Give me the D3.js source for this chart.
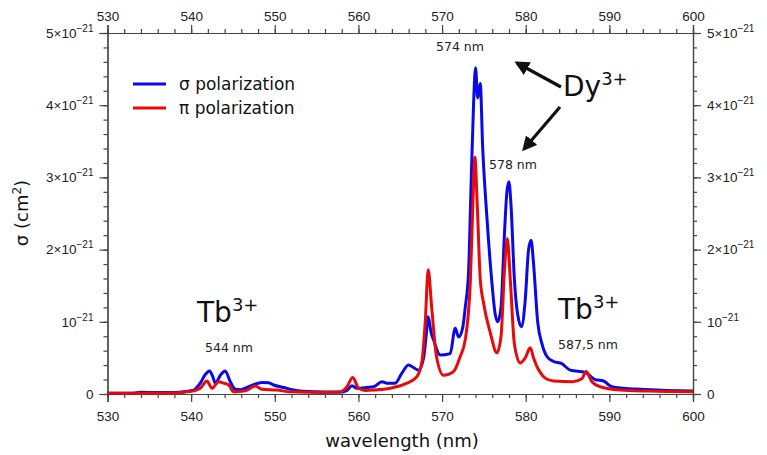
<!DOCTYPE html>
<html>
<head>
<meta charset="utf-8">
<script src="https://cdn.jsdelivr.net/npm/d3@7"></script>
<style>
  body { margin: 0; background: #fff; }
  svg { font-family: "DejaVu Sans", sans-serif; }
  .axis path, .axis line { stroke: #444; stroke-width: 1.2; }
  .axis text { fill: #222; font-size: 13.5px; }
</style>
</head>
<body>
<svg></svg>
<script>
// values in units of 1e-21 cm^2
const sigmaNm = [530, 532.95, 533.95, 535.92, 537.91, 539.4, 540.3, 541.09, 541.69, 542.19, 542.59, 542.89, 543.49, 544.08, 544.68, 545.28, 545.88, 546.47, 547.47, 548.47, 549.26, 549.86, 551.06, 552.25, 554.64, 557.83, 558.63, 559.22, 559.82, 560.22, 561.02, 561.81, 562.81, 563.41, 564.4, 565.2, 566.0, 566.4, 567.19, 567.79, 568.09, 568.34, 568.69, 568.98, 569.78, 570.97, 571.57, 571.97, 572.47, 572.77, 573.17, 573.47, 573.76, 574.0, 574.26, 574.56, 574.86, 575.36, 575.96, 576.36, 576.65, 577.05, 577.45, 577.75, 577.99, 578.25, 578.64, 579.04, 579.49, 579.94, 580.34, 580.64, 580.94, 581.43, 581.93, 582.53, 583.33, 584.32, 585.32, 587.11, 588.31, 589.3, 590.3, 591.69, 593.68, 596.67, 600]
const sigmaVal = [0.01, 0.01, 0.025, 0.02, 0.02, 0.035, 0.055, 0.15, 0.27, 0.32, 0.24, 0.15, 0.26, 0.32, 0.17, 0.065, 0.06, 0.08, 0.13, 0.16, 0.155, 0.125, 0.09, 0.055, 0.03, 0.025, 0.05, 0.115, 0.08, 0.08, 0.09, 0.1, 0.17, 0.15, 0.15, 0.29, 0.4, 0.38, 0.33, 0.5, 0.8, 1.07, 0.85, 0.75, 0.54, 0.56, 0.91, 0.79, 0.92, 1.2, 1.7, 2.9, 4.0, 4.52, 4.1, 4.3, 3.4, 2.45, 1.54, 1.1, 1.0, 1.2, 2.2, 2.8, 2.94, 2.6, 1.6, 1.1, 0.93, 1.3, 2.0, 2.13, 1.8, 1.0, 0.7, 0.52, 0.45, 0.42, 0.33, 0.3, 0.2, 0.18, 0.1, 0.08, 0.065, 0.05, 0.04]

const piNm = [530, 537.91, 539.4, 540.3, 541.09, 541.89, 542.49, 543.29, 543.88, 544.48, 545.08, 546.47, 547.67, 548.47, 550.26, 551.85, 555.84, 557.83, 558.63, 559.32, 560.02, 560.82, 561.81, 563.8, 565.8, 566.99, 567.59, 567.99, 568.34, 568.75, 569.33, 570.18, 571.37, 572.17, 572.77, 573.37, 573.66, 573.92, 574.21, 574.56, 574.96, 575.76, 576.55, 577.05, 577.45, 577.8, 578.15, 578.64, 579.34, 579.94, 580.54, 580.94, 581.43, 581.73, 582.33, 583.33, 585.61, 586.71, 587.21, 587.91, 588.9, 591.29, 594.68, 600]
const piVal = [0.01, 0.015, 0.03, 0.045, 0.08, 0.18, 0.08, 0.17, 0.15, 0.125, 0.03, 0.045, 0.11, 0.065, 0.055, 0.03, 0.02, 0.03, 0.1, 0.23, 0.08, 0.05, 0.055, 0.08, 0.15, 0.24, 0.45, 1.0, 1.72, 1.21, 0.52, 0.26, 0.31, 0.52, 0.75, 1.54, 2.55, 3.28, 2.6, 1.6, 1.26, 0.85, 0.57, 0.8, 1.7, 2.15, 1.6, 0.7, 0.43, 0.5, 0.64, 0.5, 0.36, 0.3, 0.22, 0.18, 0.17, 0.21, 0.31, 0.17, 0.1, 0.055, 0.04, 0.03]

const xTicks = [530, 540, 550, 560, 570, 580, 590, 600]
const yTicks = [0, 1, 2, 3, 4, 5]
const yTickMant = ["0", "", "2×", "3×", "4×", "5×"]

const legendNames = ["σ polarization", "π polarization"]
const colors = ["#0a0ae6", "#e60a0a"]

const w = 767
const h = 455
const padL = 107.5, padR = 693, padT = 33, padB = 394

let svg = d3.select("svg").attr("width", w).attr("height", h)

let xScale = d3.scaleLinear().domain([530, 600]).range([padL, padR])
let yScale = d3.scaleLinear().domain([0, 5]).range([padB, padT])

let fmtY = (sel) => {
  sel.selectAll(".tick text").each(function(d) {
    let t = d3.select(this).text("")
    let m = yTickMant[yTicks.indexOf(d)]
    if (d === 0) { t.text("0"); return }
    t.append("tspan").text(m + "10")
    t.append("tspan").attr("dy", -6).attr("font-size", 10).text("−21")
  })
}

// minor ticks
let xMinor = d3.range(530, 601, 2)
let yMinor = d3.range(0, 5.01, 0.2)

svg.append("g").attr("class", "axis").attr("transform", `translate(0,${padB})`)
  .call(d3.axisBottom(xScale).tickValues(xMinor).tickSize(4).tickFormat(""))
svg.append("g").attr("class", "axis").attr("transform", `translate(0,${padT})`)
  .call(d3.axisTop(xScale).tickValues(xMinor).tickSize(4).tickFormat(""))
svg.append("g").attr("class", "axis").attr("transform", `translate(${padL},0)`)
  .call(d3.axisLeft(yScale).tickValues(yMinor).tickSize(4).tickFormat(""))
svg.append("g").attr("class", "axis").attr("transform", `translate(${padR},0)`)
  .call(d3.axisRight(yScale).tickValues(yMinor).tickSize(4).tickFormat(""))

// major ticks
svg.append("g").attr("class", "axis").attr("transform", `translate(0,${padB})`)
  .call(d3.axisBottom(xScale).tickValues(xTicks).tickSize(8).tickPadding(9).tickFormat(d3.format("d")))
svg.append("g").attr("class", "axis").attr("transform", `translate(0,${padT})`)
  .call(d3.axisTop(xScale).tickValues(xTicks).tickSize(8).tickPadding(4).tickFormat(d3.format("d")))
svg.append("g").attr("class", "axis").attr("transform", `translate(${padL},0)`)
  .call(d3.axisLeft(yScale).tickValues(yTicks).tickSize(8).tickPadding(6))
  .call(fmtY)
svg.append("g").attr("class", "axis").attr("transform", `translate(${padR},0)`)
  .call(d3.axisRight(yScale).tickValues(yTicks).tickSize(8).tickPadding(6))
  .call(fmtY)

// curves
let line = d3.line()
  .x(d => xScale(d[0]))
  .y(d => yScale(d[1]))
  .curve(d3.curveMonotoneX)

let series = [d3.zip(sigmaNm, sigmaVal), d3.zip(piNm, piVal)]
series.forEach((s, i) => {
  svg.append("path")
    .datum(s)
    .attr("fill", "none")
    .attr("stroke", colors[i])
    .attr("stroke-width", 3)
    .attr("stroke-linejoin", "round")
    .attr("d", line)
})

// legend
legendNames.forEach((n, i) => {
  let y = 84 + i * 24
  svg.append("line").attr("x1", 133).attr("x2", 166).attr("y1", y).attr("y2", y)
    .attr("stroke", colors[i]).attr("stroke-width", 3)
  svg.append("text").attr("x", 179).attr("y", y + 6).attr("font-size", 17).attr("fill", "#111").text(n)
})

// axis titles
svg.append("text").attr("x", 402).attr("y", 447).attr("text-anchor", "middle")
  .attr("font-size", 18).attr("fill", "#111").text("wavelength (nm)")
let yt = svg.append("text").attr("transform", "translate(28,213) rotate(-90)")
  .attr("text-anchor", "middle").attr("font-size", 18).attr("fill", "#111")
yt.append("tspan").text("σ (cm")
yt.append("tspan").attr("dy", -7).attr("font-size", 12).text("2")
yt.append("tspan").attr("dy", 7).text(")")

// annotations
let ion = (x, y, name) => {
  let t = svg.append("text").attr("x", x).attr("y", y).attr("font-size", 28).attr("fill", "#111")
  t.append("tspan").text(name)
  t.append("tspan").attr("dy", -11).attr("font-size", 18).text("3+")
}
ion(563, 96, "Dy")
ion(197, 322, "Tb")
ion(558, 319, "Tb")

let note = (x, y, s) => svg.append("text").attr("x", x).attr("y", y).attr("text-anchor", "middle")
  .attr("font-size", 12.5).attr("fill", "#222").text(s)
note(460, 51, "574 nm")
note(513, 169, "578 nm")
note(229, 352, "544 nm")
note(588, 349, "587,5 nm")

svg.append("defs").append("marker")
  .attr("id", "head").attr("viewBox", "0 0 10 10").attr("refX", 8).attr("refY", 5)
  .attr("markerWidth", 4.6).attr("markerHeight", 4.6).attr("orient", "auto")
  .append("path").attr("d", "M0,0 L10,5 L0,10 Z").attr("fill", "#111")

let arrow = (x1, y1, x2, y2) => svg.append("line")
  .attr("x1", x1).attr("y1", y1).attr("x2", x2).attr("y2", y2)
  .attr("stroke", "#111").attr("stroke-width", 3.2).attr("marker-end", "url(#head)")
arrow(561, 87, 517, 63)
arrow(560, 107, 524, 149)
</script>
</body>
</html>
